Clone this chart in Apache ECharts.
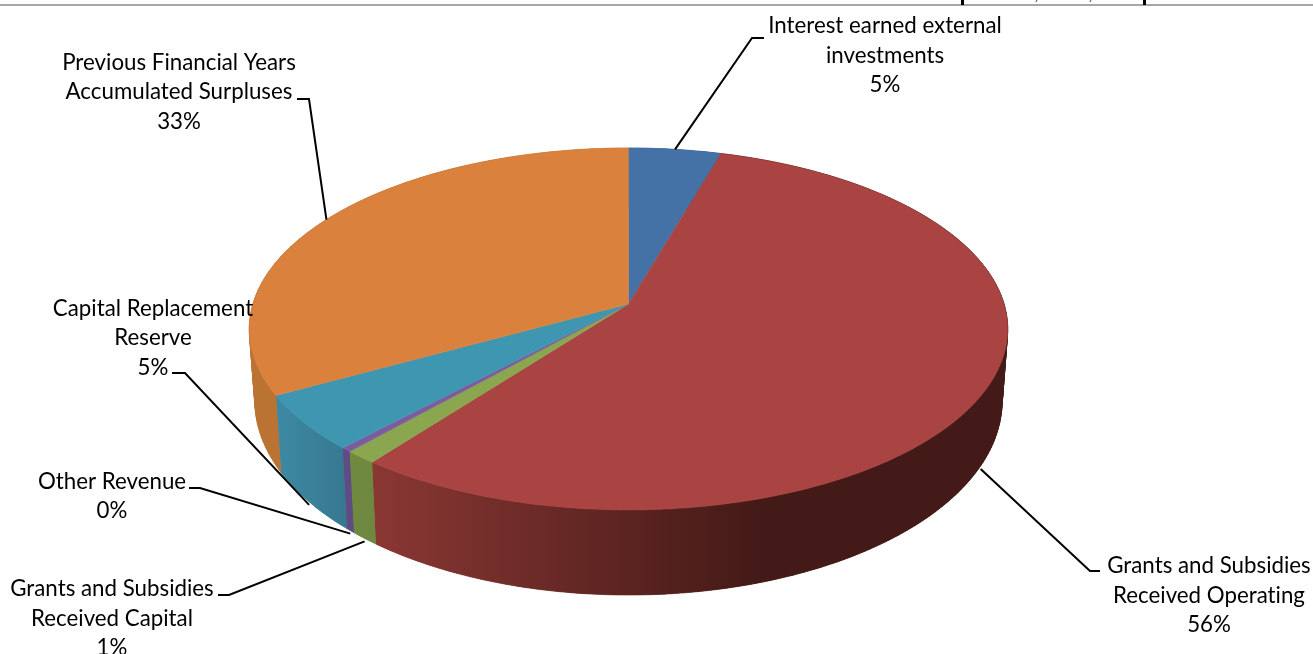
<!DOCTYPE html>
<html>
<head>
<meta charset="utf-8">
<style>html,body{margin:0;padding:0;background:#fff}#chart{width:1313px;height:654px}</style>
<script src="https://cdn.jsdelivr.net/npm/echarts@6/dist/echarts.min.js"></script>
</head>
<body>
<div id="chart"></div>
<script>
// Revenue sources, share of total in percent, clockwise from twelve o'clock
const categories = [
  'Interest earned external\ninvestments',
  'Grants and Subsidies\nReceived Operating',
  'Grants and Subsidies\nReceived Capital',
  'Other Revenue',
  'Capital Replacement\nReserve',
  'Previous Financial Years\nAccumulated Surpluses'
];
const values = [4.5, 55.9, 1.2, 0.4, 5.0, 33.0];
const topColors = ['#4471a6', '#a94442', '#8aa64e', '#7a5d9f', '#3f96b0', '#d9813d'];
const wallStops = [
  ['#375c88', '#375c88'],
  ['#8a3733', '#431a17'],
  ['#6f8b3f', '#6f8740'],
  ['#614d86', '#5e4b80'],
  ['#3d89a3', '#37788f'],
  ['#bb7334', '#bb7334']
];

// Projection of the tilted disc: a far/near foreshortened circle for each rim
const CX = 628.5;
const PERSPECTIVE = 0.1381;
const topRim = { ax: 375.6, by: 177.5, cy: 304 };
const bottomRim = { ax: 370, by: 190, cy: 374.6 };

function project(rim, percent) {
  const t = percent / 100 * Math.PI * 2;
  const u = Math.sin(t), v = Math.cos(t);
  const d = 1 + PERSPECTIVE * v;
  return [CX + rim.ax * u / d, rim.cy - rim.by * v / d];
}
function arc(rim, from, to) {
  const n = Math.max(2, Math.ceil(Math.abs(to - from) * 4));
  const pts = [];
  for (let i = 0; i <= n; i++) pts.push(project(rim, from + (to - from) * i / n));
  return pts;
}

// Cumulative start and end of each slice
let running = 0;
const sliceData = values.map(function (v, i) {
  const row = [running, running + v, i];
  running += v;
  return row;
});

// Label blocks and the elbow of each leader line; the leader's far end follows the slice midpoint
const labelLayout = [
  { x: 885, y: 55.5, stub: [[764, 38], [752, 38]], rim: topRim, lift: 0 },
  { x: 1209, y: 595.5, stub: [[1100, 571], [1090, 571]], rim: bottomRim, lift: 3 },
  { x: 112, y: 618.5, stub: [[218, 595], [229, 595]], rim: bottomRim, lift: 3 },
  { x: 112, y: 496.5, stub: [[189, 488], [200, 488]], rim: bottomRim, lift: 3 },
  { x: 153, y: 338, stub: [[172, 373], [185, 373]], rim: bottomRim, lift: 3 },
  { x: 179, y: 92, stub: [[297, 99], [309, 99]], rim: topRim, lift: 0 }
];
const FONT = 'Lato, Carlito, sans-serif';

// Plain glyph shaping for the labels, without the font's ti ligature
const nativeGetContext = HTMLCanvasElement.prototype.getContext;
HTMLCanvasElement.prototype.getContext = function () {
  const ctx = nativeGetContext.apply(this, arguments);
  if (ctx && 'textRendering' in ctx) ctx.textRendering = 'optimizeSpeed';
  return ctx;
};

const chart = echarts.init(document.getElementById('chart'), null, { renderer: 'canvas' });
chart.setOption({
  animation: false,
  backgroundColor: '#ffffff',
  graphic: [
    { type: 'rect', shape: { x: 0, y: 4, width: 1313, height: 2 }, style: { fill: '#a6a6a6' }, z: 1 },
    { type: 'rect', shape: { x: 961, y: 0, width: 3, height: 5 }, style: { fill: '#000' }, z: 1 },
    { type: 'rect', shape: { x: 1143, y: 0, width: 3, height: 5 }, style: { fill: '#000' }, z: 1 },
    { type: 'polyline', shape: { points: [[1037, 0], [1036, 2]] }, style: { stroke: '#444', lineWidth: 1 }, z: 1 },
    { type: 'polyline', shape: { points: [[1091, 0], [1090, 2]] }, style: { stroke: '#444', lineWidth: 1 }, z: 1 }
  ],
  series: [
    {
      // Outer walls: narrow quads fill the sweep between the rims at the silhouette,
      // and one solid outline over them keeps the visible face free of seams
      type: 'custom', coordinateSystem: 'none', silent: true, z: 2, data: sliceData,
      renderItem: function (params, api) {
        const a = api.value(0), b = api.value(1), i = api.value(2);
        const upper = arc(topRim, a, b), lower = arc(bottomRim, a, b);
        const xs = upper.concat(lower).map(function (p) { return p[0]; });
        const spread = i === 1 ? [372, 760] : [Math.min.apply(null, xs), Math.max.apply(null, xs)];
        const fill = new echarts.graphic.LinearGradient(spread[0], 0, spread[1], 0, [
          { offset: 0, color: wallStops[i][0] },
          { offset: 1, color: wallStops[i][1] }
        ], true);
        const children = [];
        for (let k = 0; k < upper.length - 1; k++) {
          children.push({
            type: 'polygon', z2: 0,
            shape: { points: [upper[k], upper[k + 1], lower[k + 1], lower[k]] },
            style: { fill: fill, stroke: fill, lineWidth: 0.6 }
          });
        }
        children.push({
          type: 'polygon', z2: 1,
          shape: { points: upper.concat(lower.slice().reverse()) },
          style: { fill: fill }
        });
        return { type: 'group', children: children };
      }
    },
    {
      // Top faces of the slices
      type: 'custom', coordinateSystem: 'none', silent: true, z: 3, data: sliceData,
      renderItem: function (params, api) {
        const a = api.value(0), b = api.value(1), i = api.value(2);
        const points = [[CX, topRim.cy]].concat(arc(topRim, a, b));
        return {
          type: 'polygon', shape: { points: points },
          style: { fill: topColors[i], stroke: topColors[i], lineWidth: 0.5 }
        };
      }
    },
    {
      // Leader lines and labels
      type: 'custom', coordinateSystem: 'none', silent: true, z: 4, data: sliceData,
      renderItem: function (params, api) {
        const a = api.value(0), b = api.value(1), i = api.value(2);
        const layout = labelLayout[i];
        const mid = project(layout.rim, (a + b) / 2);
        const end = [mid[0], mid[1] + layout.lift];
        return {
          type: 'group',
          children: [
            {
              type: 'polyline',
              shape: { points: layout.stub.concat([end]) },
              style: { stroke: '#000', lineWidth: 2, fill: null }
            },
            {
              type: 'text',
              style: {
                text: categories[i] + '\n' + Math.round(values[i]) + '%',
                x: layout.x, y: layout.y,
                align: 'center', verticalAlign: 'middle',
                font: '22.3px ' + FONT, lineHeight: 29.5, fill: '#000'
              }
            }
          ]
        };
      }
    }
  ]
});
</script>
</body>
</html>
